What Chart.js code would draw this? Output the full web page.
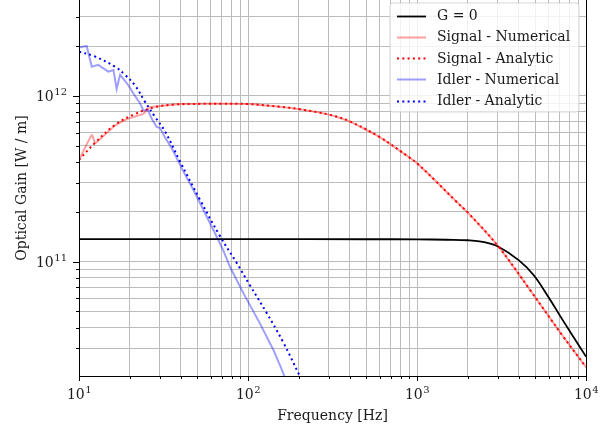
<!DOCTYPE html>
<html>
<head>
<meta charset="utf-8">
<script src="https://cdn.jsdelivr.net/npm/chart.js@4/dist/chart.umd.min.js"></script>
<style>
html, body { margin: 0; padding: 0; background: #fff; }
</style>
</head>
<body>
<canvas id="grafico" width="613" height="429"></canvas>
<script>
// datos (Hz, W/m)
var freqG0 = [10, 100, 500, 1000, 1500, 2000, 2500, 3037, 3995, 4894, 5966, 7268, 10000];
var gainG0 = [1.365e11, 1.365e11, 1.364e11, 1.362e11, 1.355e11, 1.345e11, 1.31e11, 1.23e11, 1.02e11, 8.3e10, 6.15e10, 4.45e10, 2.67e10];

var freqSignalA = [10, 12.4, 16.3, 21.4, 28.1, 37, 52, 70, 100, 154, 203, 306, 402, 605, 910, 1000, 1283, 1680, 2013, 3037, 4663, 7268, 10000];
var gainSignalA = [4.11e11, 5.19e11, 6.68e11, 7.76e11, 8.55e11, 8.87e11, 8.95e11, 8.96e11, 8.93e11, 8.6e11, 8.3e11, 7.68e11, 7.0e11, 5.62e11, 4.22e11, 3.92e11, 3.08e11, 2.34e11, 1.96e11, 1.23e11, 6.75e10, 3.57e10, 2.31e10];

var freqSignalN = [10, 11.9, 12.5, 14, 16.3, 19, 21.4, 24, 26.5, 28.1, 37, 52, 70, 100, 154, 203, 306, 402, 605, 910, 1000, 1283, 1680, 2013, 3037, 4663, 7268, 10000];
var gainSignalN = [4.1e11, 5.8e11, 5.2e11, 5.75e11, 6.6e11, 7.2e11, 7.5e11, 7.8e11, 8.6e11, 8.6e11, 8.87e11, 8.95e11, 8.96e11, 8.93e11, 8.6e11, 8.3e11, 7.68e11, 7.0e11, 5.62e11, 4.22e11, 3.92e11, 3.08e11, 2.34e11, 1.96e11, 1.23e11, 6.75e10, 3.57e10, 2.31e10];

var freqIdlerA = [10, 12.4, 16.3, 18.7, 21.4, 24.6, 28.1, 32.3, 39.6, 52, 68.4, 85.8, 102.6, 129, 161.8, 201, 250];
var gainIdlerA = [1.85e12, 1.73e12, 1.5e12, 1.34e12, 1.16e12, 9.2e11, 7.5e11, 6.1e11, 4.02e11, 2.36e11, 1.42e11, 9.8e10, 7.2e10, 4.9e10, 3.25e10, 2.07e10, 1.3e10];

var freqIdlerN = [10, 11.1, 11.9, 13.0, 14.9, 16.0, 16.7, 17.5, 19.6, 20.9, 23.0, 24.0, 25.6, 26.9, 28.8, 30.2, 32.3, 35.4, 41.5, 47.5, 54.5, 62.4, 71.4, 78.2, 93.9, 117.6, 141.4, 161.8, 166];
var gainIdlerN = [1.96e12, 2.0e12, 1.5e12, 1.54e12, 1.4e12, 1.43e12, 1.1e12, 1.34e12, 1.16e12, 1.04e12, 9.0e11, 8.2e11, 8.2e11, 7.3e11, 6.5e11, 6.4e11, 5.6e11, 4.83e11, 3.49e11, 2.71e11, 2.05e11, 1.55e11, 1.17e11, 9.3e10, 6.45e10, 4.24e10, 2.93e10, 2.12e10, 1.95e10];

var nombres = ['G = 0', 'Signal - Numerical', 'Signal - Analytic', 'Idler - Numerical', 'Idler - Analytic'];

// etiquetas de los ejes: 10^n
var xTickValues = [1e1, 1e2, 1e3, 1e4];
var xTickExp = ['1', '2', '3', '4'];
var yTickValues = [1e11, 1e12];
var yTickExp = ['11', '12'];

var xMin = 10, xMax = 1e4;
var yMin = 2.04e10, yMax = 3.79e12;

var fuente = 'DejaVu Serif';
var colorTexto = '#1a1a1a';

function puntos(xs, ys) {
    var aux = [];
    for (var i = 0; i < xs.length; i++) {
        aux.push({ x: xs[i], y: ys[i] });
    }
    return aux;
}

function ticksLog(min, max) {
    var t = [];
    for (var e = Math.floor(Math.log10(min)); e <= Math.ceil(Math.log10(max)); e++) {
        for (var m = 1; m < 10; m++) {
            var v = m * Math.pow(10, e);
            if (v >= min * 0.999 && v <= max * 1.001) t.push({ value: v });
        }
    }
    return t;
}

function esMayor(v) {
    var l = Math.log10(v);
    return Math.abs(l - Math.round(l)) < 1e-6;
}

// ejes, marcas, etiquetas y leyenda estilo matplotlib
var estiloMpl = {
    id: 'estiloMpl',
    afterDraw: function(chart) {
        var ctx = chart.ctx;
        var area = chart.chartArea;
        var sx = chart.scales.x, sy = chart.scales.y;
        ctx.save();

        // marcos
        ctx.strokeStyle = '#000';
        ctx.lineWidth = 1;
        ctx.beginPath();
        ctx.moveTo(area.left + 0.5, area.top);
        ctx.lineTo(area.left + 0.5, area.bottom + 0.5);
        ctx.lineTo(area.right + 0.5, area.bottom + 0.5);
        ctx.lineTo(area.right + 0.5, area.top);
        ctx.stroke();

        // marcas de los ejes
        ctx.beginPath();
        sx.ticks.forEach(function(t) {
            var p = Math.round(sx.getPixelForValue(t.value)) + 0.5;
            var largo = esMayor(t.value) ? 5 : 3;
            ctx.moveTo(p, area.bottom);
            ctx.lineTo(p, area.bottom + largo);
        });
        sy.ticks.forEach(function(t) {
            var p = Math.round(sy.getPixelForValue(t.value)) + 0.5;
            var largo = esMayor(t.value) ? 6 : 3;
            ctx.moveTo(area.left, p);
            ctx.lineTo(area.left - largo, p);
        });
        ctx.stroke();

        // etiquetas 10^n
        ctx.fillStyle = colorTexto;
        ctx.textBaseline = 'alphabetic';
        ctx.textAlign = 'left';
        var fBase = '14px "' + fuente + '"', fExp = '10px "' + fuente + '"';
        for (var i = 0; i < xTickValues.length; i++) {
            var px = sx.getPixelForValue(xTickValues[i]);
            ctx.font = fBase; var wb = ctx.measureText('10').width;
            ctx.font = fExp; var we = ctx.measureText(xTickExp[i]).width;
            var x0 = px - (wb + we) / 2;
            ctx.font = fBase; ctx.fillText('10', x0, area.bottom + 23);
            ctx.font = fExp; ctx.fillText(xTickExp[i], x0 + wb + 0.5, area.bottom + 17);
        }
        for (var j = 0; j < yTickValues.length; j++) {
            var py = sy.getPixelForValue(yTickValues[j]);
            ctx.font = fBase; var wb2 = ctx.measureText('10').width;
            ctx.font = fExp; var we2 = ctx.measureText(yTickExp[j]).width;
            var xr = area.left - 12;
            ctx.font = fBase; ctx.fillText('10', xr - we2 - wb2 - 0.5, py + 5);
            ctx.font = fExp; ctx.fillText(yTickExp[j], xr - we2, py - 1);
        }

        // titulos de los ejes
        ctx.font = '14px "' + fuente + '"';
        ctx.textAlign = 'center';
        ctx.textBaseline = 'middle';
        ctx.fillText('Frequency [Hz]', (area.left + area.right) / 2, 416);
        ctx.save();
        ctx.translate(22, (area.top + area.bottom) / 2);
        ctx.rotate(-Math.PI / 2);
        ctx.fillText('Optical Gain [W / m]', 0, 0);
        ctx.restore();

        // leyenda
        var lx = 390, ly = 3, lw = 189, lh = 109, r = 3;
        ctx.beginPath();
        ctx.moveTo(lx + r, ly);
        ctx.arcTo(lx + lw, ly, lx + lw, ly + lh, r);
        ctx.arcTo(lx + lw, ly + lh, lx, ly + lh, r);
        ctx.arcTo(lx, ly + lh, lx, ly, r);
        ctx.arcTo(lx, ly, lx + lw, ly, r);
        ctx.closePath();
        ctx.fillStyle = 'rgba(255,255,255,0.8)';
        ctx.fill();
        ctx.strokeStyle = 'rgba(204,204,204,0.8)';
        ctx.lineWidth = 1;
        ctx.stroke();

        ctx.font = '14px "' + fuente + '"';
        ctx.textAlign = 'left';
        ctx.textBaseline = 'middle';
        chart.data.datasets.forEach(function(ds, k) {
            var yy = 15.5 + k * 21.3;
            ctx.save();
            ctx.strokeStyle = ds.borderColor;
            ctx.lineWidth = ds.borderWidth;
            ctx.setLineDash(ds.borderDash || []);
            ctx.beginPath();
            ctx.moveTo(397, Math.round(yy) + 0.5);
            ctx.lineTo(426, Math.round(yy) + 0.5);
            ctx.stroke();
            ctx.restore();
            ctx.fillStyle = colorTexto;
            ctx.fillText(ds.label, 437, yy + 1);
        });

        ctx.restore();
    }
};

var ctx = document.getElementById('grafico').getContext('2d');
var grafico = new Chart(ctx, {
    type: 'line',
    data: {
        datasets: [{
            label: nombres[0],
            data: puntos(freqG0, gainG0),
            borderColor: '#000000',
            borderWidth: 1.8,
            tension: 0.4,
            order: 5
        }, {
            label: nombres[1],
            data: puntos(freqSignalN, gainSignalN),
            borderColor: 'rgba(255,0,0,0.38)',
            borderWidth: 2,
            tension: 0.15,
            order: 4
        }, {
            label: nombres[2],
            data: puntos(freqSignalA, gainSignalA),
            borderColor: '#ff0000',
            borderWidth: 2,
            borderDash: [2, 3.3],
            tension: 0.4,
            order: 3
        }, {
            label: nombres[3],
            data: puntos(freqIdlerN, gainIdlerN),
            borderColor: 'rgba(0,0,255,0.38)',
            borderWidth: 2,
            order: 2
        }, {
            label: nombres[4],
            data: puntos(freqIdlerA, gainIdlerA),
            borderColor: '#0000ff',
            borderWidth: 2,
            borderDash: [2, 3.3],
            tension: 0.4,
            order: 1
        }]
    },
    options: {
        responsive: false,
        animation: false,
        devicePixelRatio: 1,
        layout: { padding: { left: 79, right: 27, top: 0, bottom: 53 } },
        elements: { point: { radius: 0 }, line: { tension: 0 } },
        plugins: { legend: { display: false }, tooltip: { enabled: false } },
        scales: {
            x: {
                type: 'logarithmic',
                min: xMin,
                max: xMax,
                afterBuildTicks: function(axis) { axis.ticks = ticksLog(xMin, xMax); },
                afterFit: function(axis) { axis.height = 0; },
                ticks: { display: false },
                border: { display: false },
                grid: { color: '#bcbcbc', lineWidth: 1, drawTicks: false }
            },
            y: {
                type: 'logarithmic',
                min: yMin,
                max: yMax,
                afterBuildTicks: function(axis) { axis.ticks = ticksLog(yMin, yMax); },
                afterFit: function(axis) { axis.width = 0; },
                ticks: { display: false },
                border: { display: false },
                grid: { color: '#bcbcbc', lineWidth: 1, drawTicks: false }
            }
        }
    },
    plugins: [estiloMpl]
});
</script>
</body>
</html>
